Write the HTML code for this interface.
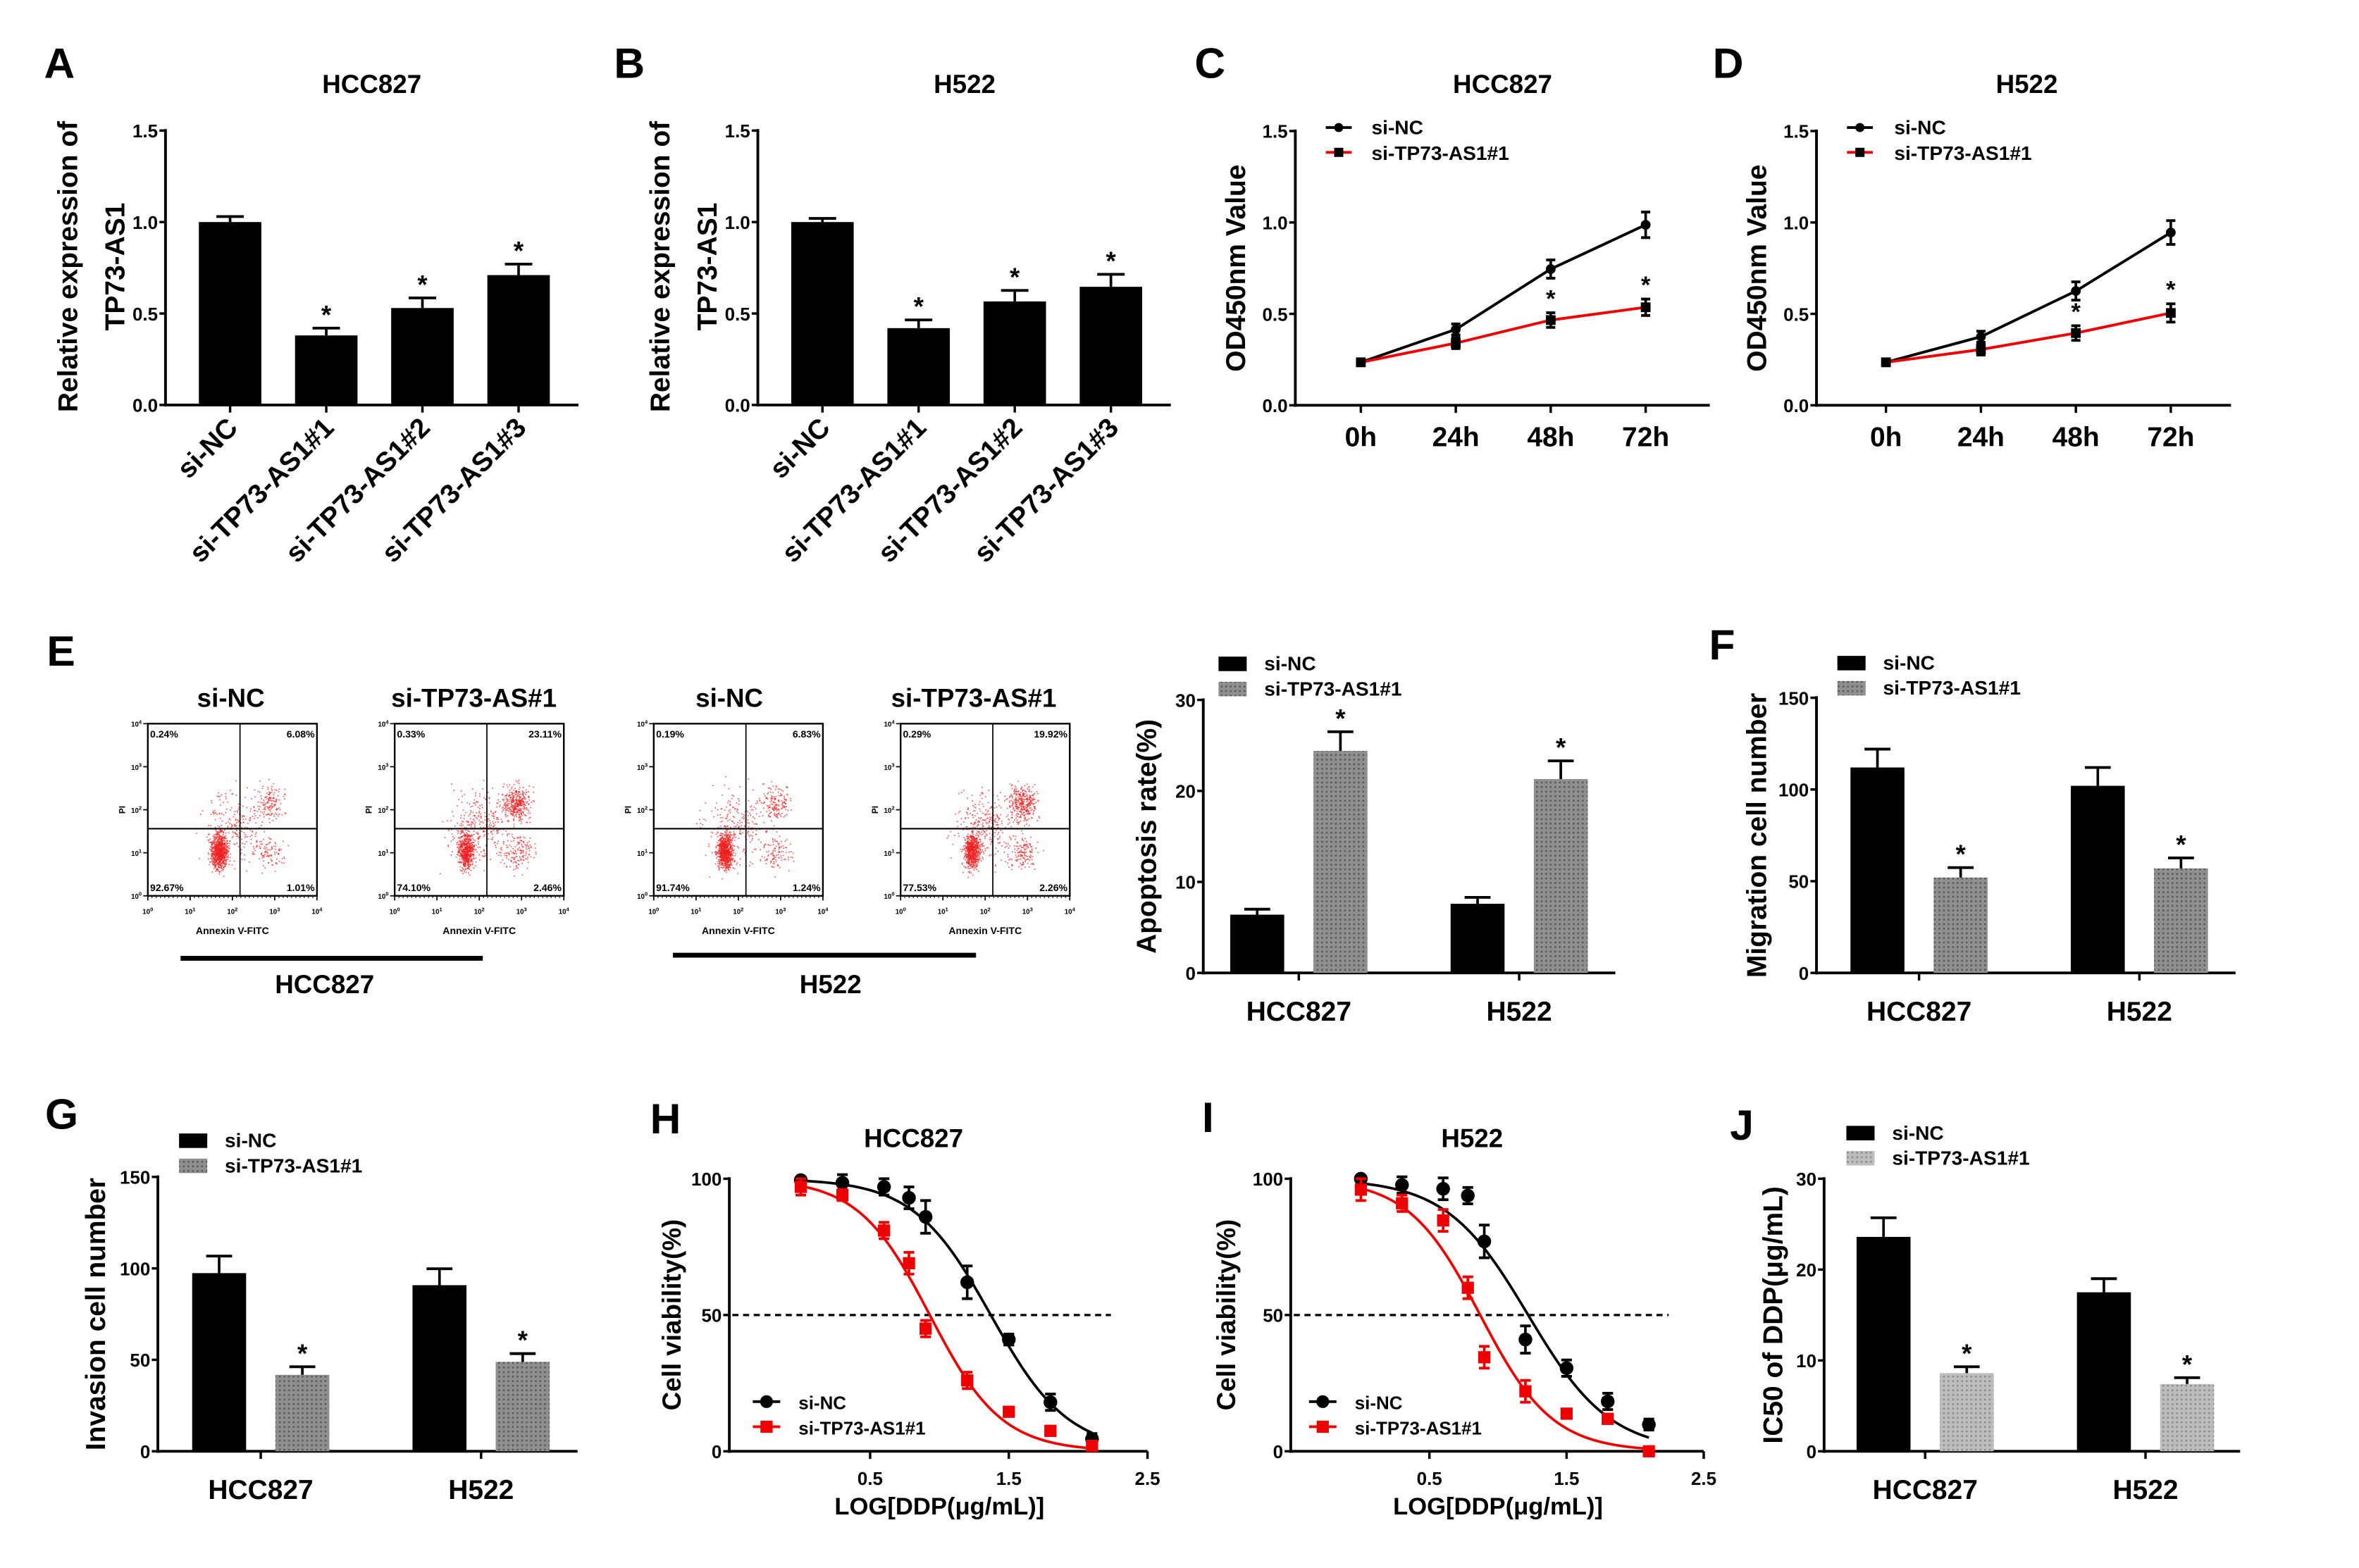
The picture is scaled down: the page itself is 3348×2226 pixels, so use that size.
<!DOCTYPE html>
<html><head><meta charset="utf-8"><style>
html,body{margin:0;padding:0;background:#fff}
svg{display:block}
text{font-family:"Liberation Sans",Arial,sans-serif;font-weight:bold;fill:#000}
</style></head><body>
<svg id="fig" xmlns="http://www.w3.org/2000/svg" width="3348" height="2226" viewBox="0 0 1548 1029.2">
<defs>
<pattern id="dots" width="3" height="3" patternUnits="userSpaceOnUse"><rect width="3" height="3" fill="#8f8f8f"/><rect x="0" y="0" width="1.2" height="1.2" fill="#5a5a5a"/></pattern>
<pattern id="dots2" width="3" height="3" patternUnits="userSpaceOnUse"><rect width="3" height="3" fill="#bdbdbd"/><rect x="0" y="0" width="1.2" height="1.2" fill="#8c8c8c"/></pattern>
</defs>
<g id="root"></g>
</svg>
<script>
// ---------- data ----------
const aCats=["si-NC","si-TP73-AS1#1","si-TP73-AS1#2","si-TP73-AS1#3"];
const aVals=[1.0,0.38,0.53,0.71];
const aErr=[0.03,0.04,0.055,0.06];
const bVals=[1.0,0.42,0.566,0.646];
const bErr=[0.02,0.045,0.06,0.068];
const relTicks=["0.0","0.5","1.0","1.5"];
const timeCats=["0h","24h","48h","72h"];
const cNC=[0.235,0.415,0.745,0.987];
const cNCe=[0.015,0.03,0.05,0.07];
const cSi=[0.235,0.34,0.466,0.536];
const cSie=[0.015,0.03,0.04,0.045];
const dNC=[0.235,0.375,0.625,0.945];
const dNCe=[0.015,0.03,0.05,0.065];
const dSi=[0.235,0.305,0.395,0.505];
const dSie=[0.015,0.03,0.04,0.05];
const groupCats=["HCC827","H522"];
const apoNC=[6.4,7.6], apoNCe=[0.6,0.7];
const apoSi=[24.4,21.3], apoSie=[2.1,2.0];
const apoTicks=["0","10","20","30"];
const migNC=[112,102], migNCe=[10,10];
const migSi=[52,57], migSie=[5.4,5.7];
const invNC=[97.4,90.8], invNCe=[9.3,9];
const invSi=[41.8,48.9], invSie=[4.4,4.5];
const cellTicks=["0","50","100","150"];
const icNC=[23.6,17.5], icNCe=[2.1,1.5];
const icSi=[8.6,7.4], icSie=[0.7,0.7];
const logDose=[0,0.3,0.6,0.78,0.9,1.2,1.5,1.8,2.1];
const hNC=[99.5,98.5,97,93,86,62,41,18,4.5];
const hNCe=[1,3,3,4,6,6,2,3,2];
const hSi=[97,94,81,69,45,26,14.5,7.5,2];
const hSie=[3,2,3,4,3,3,0,0,0];
const hFitNC=[1.37,1.56], hFitSi=[0.93,1.68];
const iNC=[100,97.7,96.3,93.8,77,41,30.5,18.3,9.8];
const iNCe=[1,3,4,3,6,5,3,3,2];
const iSi=[96,91,84.7,60,34.5,22,13.8,11.9,0];
const iSie=[4,3,4,4,4,4,0,0,0];
const iFitNC=[1.22,1.45], iFitSi=[0.87,1.65];
const vTicks=["0","50","100"];
const doseTicks=["0.5","1.5","2.5"];
const flowPct=[["0.24%","6.08%","92.67%","1.01%"],["0.33%","23.11%","74.10%","2.46%"],["0.19%","6.83%","91.74%","1.24%"],["0.29%","19.92%","77.53%","2.26%"]];

// ---------- helpers ----------
const NS="http://www.w3.org/2000/svg";
const root=document.getElementById('root');
function mk(tag,at,parent,txt){const e=document.createElementNS(NS,tag);for(const k in at)e.setAttribute(k,at[k]);if(txt!==undefined)e.textContent=txt;(parent||root).appendChild(e);return e;}
function T(x,y,s,size,parent,anchor,name,rot){const e=mk('text',{x:x,y:y,'font-size':size,'text-anchor':anchor||'middle'},parent,s);


if(rot)e.setAttribute('transform','rotate('+rot+' '+x+' '+y+')');return e;}
function L(x1,y1,x2,y2,w,parent,col,dash){const e=mk('line',{x1,y1,x2,y2,stroke:col||'#000','stroke-width':w||1.6},parent);if(dash)e.setAttribute('stroke-dasharray',dash);return e;}
function grp(name){const g=mk('g',{});return g;}
function yAxis(g,ax,y0,y1,ticks,fs){L(ax,y0+1,ax,y1-1,1.8,g);const n=ticks.length;ticks.forEach((t,i)=>{const y=y0+(y1-y0)*i/(n-1);L(ax-4,y,ax,y,1.6,g);T(ax-5,y+4.5,t,fs||12,g,'end','y-tick-label');});}
function errBar(g,x,yv,ye,w,col){L(x,yv,x,ye,1.7,g,col);L(x-w,ye,x+w,ye,1.8,g,col);}
function ytitle(g,cx,cy,s,fs){T(cx+6,cy,s,fs||18,g,'middle','y-axis-title',-90);}

// ---------- A/B bar ----------
function relPanel(name,ax,vals,errs,title,tx){
 const g=grp(name);const y0=265.8,y1=85.7,max=1.5;const ys=v=>y0-(y0-y1)*v/max;
 yAxis(g,ax,y0,y1,relTicks,12);
 const xs=i=>ax+42.4+i*63.1;
 L(ax,y0,ax+271,y0,1.8,g);
 vals.forEach((v,i)=>{const cx=xs(i);const r=mk('rect',{x:cx-20.5,y:ys(v),width:41,height:y0-ys(v),fill:'#000'},g);
 
 
 errBar(g,cx,ys(v),ys(v+errs[i]),9);
 if(i>0)T(cx,ys(v+errs[i])-3,'*',17,g,'middle','significance-star');
 L(cx,y0,cx,y0+5,1.6,g);
 T(cx+6,y0+16,aCats[i],18,g,'end','x-category-label',-45);});
 T(tx,61,title,17,g,'middle','panel-title');
 ytitle(g,ax-64,175,'Relative expression of',18);
 ytitle(g,ax-33,175,'TP73-AS1',18);
}
relPanel('panel-a-chart',108.6,aVals,aErr,'HCC827',244);
relPanel('panel-b-chart',497.3,bVals,bErr,'H522',633);

// ---------- C/D line ----------
function odPanel(name,ax,p0,nc,nce,si,sie,title,tx,legTx){
 const g=grp(name);const y0=266,y1=86,max=1.5;const ys=v=>y0-(y0-y1)*v/max;
 yAxis(g,ax,y0,y1,relTicks,12);
 const xs=i=>p0+i*62.3;
 L(ax,y0,ax+272,y0,1.8,g);
 timeCats.forEach((c,i)=>{L(xs(i),y0,xs(i),y0+5,1.6,g);T(xs(i),y0+27,c,18,g,'middle','x-tick-label');});
 [[nc,nce,'#000','circle'],[si,sie,'#e00','square']].forEach(([vals,er,col,sh],s)=>{
  const p=vals.map((v,i)=>xs(i)+','+ys(v)).join(' ');
  const pl=mk('polyline',{points:p,fill:'none',stroke:col,'stroke-width':1.8},g);
  
  
  vals.forEach((v,i)=>{errBar(g,xs(i),ys(v),ys(v+er[i]),3,'#000');errBar(g,xs(i),ys(v),ys(v-er[i]),3,'#000');
   const m=sh==='circle'?mk('circle',{cx:xs(i),cy:ys(v),r:3.2,fill:'#000'},g):mk('rect',{x:xs(i)-3.2,y:ys(v)-3.2,width:6.4,height:6.4,fill:'#000'},g);
   
   
   if(s&&i>=2)T(xs(i),ys(v+er[i])-4,'*',16,g,'middle','significance-star');});
 });
 T(tx,61,title,17,g,'middle','panel-title');
 ytitle(g,ax-39,176,'OD450nm Value',18);
 L(ax+20,83.7,ax+37,83.7,1.8,g);mk('circle',{cx:ax+28.5,cy:83.7,r:3},g);T(legTx,88,'si-NC',13,g,'start','legend-entry');
 L(ax+20,100,ax+37,100,1.8,g,'#e00');mk('rect',{x:ax+25.5,y:97,width:6,height:6},g);T(legTx,105,'si-TP73-AS1#1',13,g,'start','legend-entry');
}
odPanel('panel-c-chart',850,893,cNC,cNCe,cSi,cSie,'HCC827',986,900);
odPanel('panel-d-chart',1192,1237.6,dNC,dNCe,dSi,dSie,'H522',1330,1243);

// ---------- group bar charts ----------
function grpBar(name,ax,y0,y1,max,ticks,off,nc,nce,si,sie,fill,ylabel,ytx,legX,legY,axEnd,labY){
 const g=grp(name);const ys=v=>y0-(y0-y1)*v/max;
 yAxis(g,ax,y0,y1,ticks,12);
 const gx=i=>ax+off+i*144.6;
 L(ax,y0,axEnd,y0,1.8,g);
 groupCats.forEach((c,i)=>{
  [[nc,nce,'#000'],[si,sie,fill]].forEach(([v,e,f],s)=>{const cx=gx(i)+s*54.6;const b=mk('rect',{x:cx-17.7,y:ys(v[i]),width:35.4,height:y0-ys(v[i]),fill:f},g);
   
   
   errBar(g,cx,ys(v[i]),ys(v[i]+e[i]),8.5);
   if(s)T(cx,ys(v[i]+e[i])-3,'*',17,g,'middle','significance-star');});
  L(gx(i)+27.3,y0,gx(i)+27.3,y0+5,1.6,g);
  T(gx(i)+27.3,labY,c,18,g,'middle','x-category-label');
 });
 ytitle(g,ytx,(y0+y1)/2,ylabel,18);
 mk('rect',{x:legX,y:legY,width:18.5,height:9.5,fill:'#000'},g);T(legX+30,legY+9,'si-NC',13,g,'start','legend-entry');
 mk('rect',{x:legX,y:legY+16.5,width:18.5,height:9.5,fill:fill},g);T(legX+30,legY+25.5,'si-TP73-AS1#1',13,g,'start','legend-entry');
}
grpBar('panel-e-bar-chart',789.6,638.6,459.4,30,apoTicks,35.4,apoNC,apoNCe,apoSi,apoSie,'url(#dots)','Apoptosis rate(%)',752.5,799.6,431,1060,670);
grpBar('panel-f-chart',1192,638.6,458,150,cellTicks,40,migNC,migNCe,migSi,migSie,'url(#dots)','Migration cell number',1153,1205.7,430.5,1467,670);
grpBar('panel-g-chart',103.6,952.6,772.5,150,cellTicks,40.2,invNC,invNCe,invSi,invSie,'url(#dots)','Invasion cell number',63,117.5,744,379,984);
grpBar('panel-j-chart',1197,952.6,773.7,30,apoTicks,39,icNC,icNCe,icSi,icSie,'url(#dots2)','IC50 of DDP(μg/mL)',1163.6,1211.6,739,1470,984);

// ---------- H/I dose response ----------
function dosePanel(name,ax,x0,unit,nc,nce,si,sie,fnc,fsi,title,tx,dashEnd,legX,ytx){
 const g=grp(name);const y0=952.6,y1=773.7;const ys=v=>y0-(y0-y1)*v/100;
 const xs=d=>x0+d*unit;
 yAxis(g,ax,y0,y1,vTicks,12);
 L(ax,y0,xs(2.5),y0,1.8,g);
 doseTicks.forEach(t=>{const x=xs(parseFloat(t));L(x,y0,x,y0+5,1.6,g);T(x,y0+22,t,12,g,'middle','x-tick-label');});
 L(ax+2,ys(50),dashEnd,ys(50),1.5,g,'#000','4,3');
 [[nc,nce,fnc,'#000',0],[si,sie,fsi,'#e00',1]].forEach(([v,e,f,col,s])=>{
  let p=[];for(let d=0;d<=2.1001;d+=0.02){p.push(xs(d)+','+ys(100/(1+Math.pow(10,(d-f[0])*f[1]))));}
  const pl=mk('polyline',{points:p.join(' '),fill:'none',stroke:col,'stroke-width':1.7},g);
  
  
  v.forEach((val,i)=>{const x=xs(logDose[i]);if(e[i]>0){errBar(g,x,ys(val),ys(val+e[i]),3.5,col);errBar(g,x,ys(val),ys(val-e[i]),3.5,col);}
   const m=s?mk('rect',{x:x-4,y:ys(val)-4,width:8,height:8,fill:col},g):mk('circle',{cx:x,cy:ys(val),r:4.5,fill:col},g);
   
   });
 });
 T(tx,753,title,17,g,'middle','panel-title');
 ytitle(g,ytx,863,'Cell viability(%)',17);
 T(xs(1.0),994,'LOG[DDP(μg/mL)]',16,g,'middle','x-axis-title');
 L(legX-9,920,legX+9,920,1.8,g);mk('circle',{cx:legX,cy:920,r:4.2},g);T(legX+21,925,'si-NC',12,g,'start','legend-entry');
 L(legX-9,936.5,legX+9,936.5,1.8,g,'#e00');mk('rect',{x:legX-4,y:932.5,width:8,height:8,fill:'#e00'},g);T(legX+21,941.5,'si-TP73-AS1#1',12,g,'start','legend-entry');
}
dosePanel('panel-h-chart',478.6,525.5,91,hNC,hNCe,hSi,hSie,hFitNC,hFitSi,'HCC827',599.5,729,503,440.6);
dosePanel('panel-i-chart',847,893,90,iNC,iNCe,iSi,iSie,iFitNC,iFitSi,'H522',966,1095,868,804.5);

// ---------- flow plots ----------
let seed=7;function rnd(){seed=(seed*16807)%2147483647;return seed/2147483647;}
function gauss(){return (rnd()+rnd()+rnd()+rnd()-2)/1.15;}
function flow(name,bx,pct,late,title,tcx){
 const g=grp(name);const w=111,h=113,by=475;
 const vx=0.545,hy=0.61;
 const cl=[[0.42,0.74,0.045,0.10,900-late*14],[0.72,0.46,0.08,0.10,60+late*14],[0.72,0.75,0.09,0.1,80+late*3],[0.5,0.6,0.18,0.2,220+late*4]];
 cl.forEach(c=>{for(let k=0;k<c[4];k++){const x=bx+w*(c[0]+gauss()*c[2]),y=by+h*(c[1]+gauss()*c[3]);if(x>bx+1&&x<bx+w-1&&y>by+1&&y<by+h-1)mk('rect',{x:x,y:y,width:0.8,height:0.8,fill:'#ee2020',opacity:0.7},g);}});
 mk('rect',{x:bx,y:by,width:w,height:h,fill:'none',stroke:'#000','stroke-width':1.1},g);
 L(bx+w*vx,by,bx+w*vx,by+h,0.8,g);L(bx,by+h*hy,bx+w,by+h*hy,1,g);
 T(bx+1.5,by+9,pct[0],6.5,g,'start','quadrant-pct');T(bx+w-1.5,by+9,pct[1],6.5,g,'end','quadrant-pct');
 T(bx+1.5,by+h-3,pct[2],6.5,g,'start','quadrant-pct');T(bx+w-1.5,by+h-3,pct[3],6.5,g,'end','quadrant-pct');
 for(let i=0;i<=4;i++){const x=bx+w*i/4,y=by+h-h*i/4;L(x,by+h,x,by+h+3,0.8,g);L(bx-3,y,bx,y,0.8,g);
  const t1=T(x,by+h+12,'10',4.5,g,'middle','x-tick');mk('tspan',{dy:-2,'font-size':3.5},t1,String(i));
  const t2=T(bx-4,y+2,'10',4.5,g,'end','y-tick');mk('tspan',{dy:-2,'font-size':3.5},t2,String(i));}
 for(let i=0;i<40;i++){const x=bx+w*i/40;L(x,by+h,x,by+h+1.5,0.5,g);}
 T(bx+w/2,613,'Annexin V-FITC',6.5,g,'middle','x-axis-title');
 T(bx-15,by+h/2,'PI',5.5,g,'middle','y-axis-title',-90);
 T(tcx,464,title,17,g,'middle','plot-title');
}
flow('flow-hcc827-si-nc',97,flowPct[0],6,'si-NC',151.5);
flow('flow-hcc827-si-tp73',259,flowPct[1],23,'si-TP73-AS#1',311);
flow('flow-h522-si-nc',429,flowPct[2],7,'si-NC',478.6);
flow('flow-h522-si-tp73',591,flowPct[3],20,'si-TP73-AS#1',639);
L(118.5,629,316.8,629,3.2);T(213,652,'HCC827',17,root,'middle','group-label');
L(441.6,627,640.5,627,3.2);T(545,652,'H522',17,root,'middle','group-label');

// letters
[['A',39,51],['B',413,51],['C',794,51],['D',1134,51],['E',40,437],['F',1130,433],['G',40.5,741],['H',436.7,744],['I',792.7,743],['J',1143,748]].forEach(a=>T(a[1],a[2],a[0],28,root,'middle','panel-letter-'+a[0].toLowerCase()));
</script>
</body></html>
